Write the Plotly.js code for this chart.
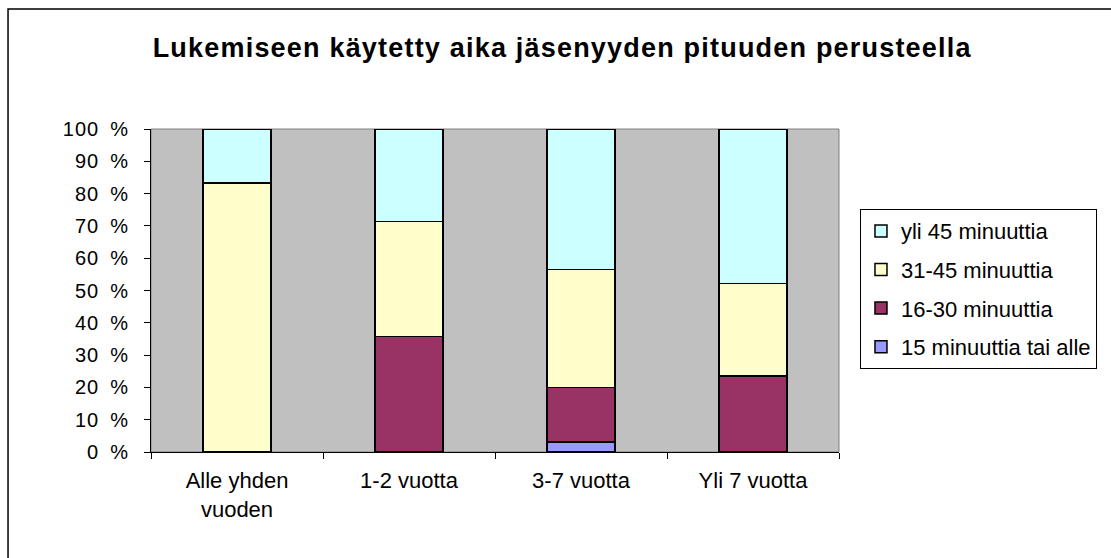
<!DOCTYPE html>
<html>
<head>
<meta charset="utf-8">
<script src="https://cdn.plot.ly/plotly-3.0.1.min.js"></script>
<style>
html,body{margin:0;padding:0;background:#fff;}
#chart{width:1111px;height:558px;}
#chart .gtitle{letter-spacing:1.2px;}
#chart .ytick text{letter-spacing:1px;}
</style>
</head>
<body>
<div id="chart"></div>
<script>
var categories = ["Alle yhden<br>vuoden", "1-2 vuotta", "3-7 vuotta", "Yli 7 vuotta"];
var min15 = [0, 0, 3.1, 0];
var min16_30 = [0, 35.7, 16.9, 23.5];
var min31_45 = [83.3, 35.7, 36.5, 28.6];
var over45 = [16.7, 28.6, 43.5, 47.9];
var seriesNames = ["15 minuuttia tai alle", "16-30 minuuttia", "31-45 minuuttia", "yli 45 minuuttia"];
var seriesColors = ["#9999FF", "#993366", "#FFFFCC", "#CCFFFF"];
var yTickVals = [0,10,20,30,40,50,60,70,80,90,100];
var yTickText = ["0\u2002%","10\u2002%","20\u2002%","30\u2002%","40\u2002%","50\u2002%","60\u2002%","70\u2002%","80\u2002%","90\u2002%","100\u2002%"];

var seriesData = [min15, min16_30, min31_45, over45];
var FONT = "Liberation Sans, Arial, sans-serif";
var traces = seriesData.map(function(vals, i){
  return {
    type: 'bar', x: categories, y: vals, name: seriesNames[i],
    legendgroup: 'g' + i, legendrank: 1000 - i,
    marker: {color: seriesColors[i], line: {color: '#000', width: 1.5}},
    hoverinfo: 'name+y'
  };
});

var layout = {
  width: 1111, height: 558,
  margin: {l: 151, r: 272, t: 129, b: 106},
  paper_bgcolor: '#fff', plot_bgcolor: '#C0C0C0',
  barmode: 'stack', bargap: 0.605,
  font: {family: FONT, color: '#000', size: 18},
  title: {text: '<b>Lukemiseen käytetty aika jäsenyyden pituuden perusteella</b>',
          font: {family: FONT, size: 27, color: '#000'},
          x: 0.506, xanchor: 'center', y: 0.914, yanchor: 'middle'},
  xaxis: {type: 'category', showline: true, linecolor: '#000', linewidth: 1,
          ticks: 'outside', tickson: 'boundaries', ticklen: 6, tickcolor: '#000',
          showgrid: false, zeroline: false, ticklabelstandoff: 9,
          tickfont: {family: FONT, size: 22, color: '#000'}},
  yaxis: {range: [0, 100], tickvals: yTickVals, ticktext: yTickText,
          showline: true, linecolor: '#000', linewidth: 1,
          ticks: 'outside', ticklen: 6, tickcolor: '#000',
          showgrid: false, zeroline: false, ticklabelstandoff: 11,
          tickfont: {family: FONT, size: 20, color: '#000'}},
  legend: {x: 1.0305, xanchor: 'left', y: 0.752, yanchor: 'top',
           bordercolor: '#000', borderwidth: 1, bgcolor: '#fff',
           traceorder: 'grouped', tracegroupgap: 7, itemwidth: 30,
           font: {family: FONT, size: 22, color: '#000'}},
  shapes: [
    {type: 'rect', xref: 'paper', yref: 'paper', x0: 0, x1: 1, y0: 0, y1: 1,
     line: {color: '#808080', width: 1}, layer: 'below'},
    {type: 'rect', xref: 'paper', yref: 'paper', x0: -0.2078, x1: 1.40, y0: -0.34, y1: 1.3715,
     line: {color: '#000', width: 1.5}, fillcolor: 'rgba(0,0,0,0)', layer: 'below'}
  ],
  showlegend: true
};
Plotly.newPlot('chart', traces, layout, {displayModeBar: false, staticPlot: true});
</script>
</body>
</html>
